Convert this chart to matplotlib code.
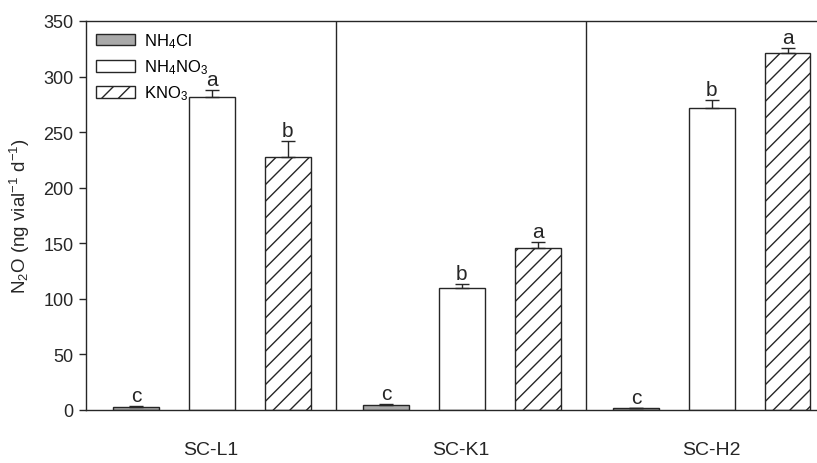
import matplotlib
matplotlib.use("Agg")
import matplotlib.pyplot as plt
import numpy as np
from matplotlib.patches import Patch

plt.rcParams['font.family'] = ['Liberation Sans', 'DejaVu Sans']
plt.rcParams['mathtext.default'] = 'regular'
plt.rcParams['hatch.linewidth'] = 1.0

sites = ["SC-L1", "SC-K1", "SC-H2"]
treatments = ["NH$_4$Cl", "NH$_4$NO$_3$", "KNO$_3$"]
nh4cl = [2.5, 4.5, 1.5]
nh4cl_err = [0.8, 0.6, 0.5]
nh4no3 = [282, 110, 272]
nh4no3_err = [6, 3.5, 7]
kno3 = [228, 146, 321]
kno3_err = [14, 5, 5]
letters = [["c", "a", "b"], ["c", "b", "a"], ["c", "b", "a"]]

ink = "#262626"
fig = plt.figure(figsize=(8.17, 4.64), dpi=100)
ax = fig.add_axes([86 / 817, 1 - 411 / 464, 750 / 817, 389 / 464])

offsets = [0.2, 0.503, 0.806]
width = 0.184
styles = [dict(facecolor="#a9a9a9", hatch=None),
          dict(facecolor="white", hatch=None),
          dict(facecolor="white", hatch="//")]
series = [(nh4cl, nh4cl_err), (nh4no3, nh4no3_err), (kno3, kno3_err)]

for j, ((vals, errs), st) in enumerate(zip(series, styles)):
    xs = np.arange(len(sites)) + offsets[j]
    ax.bar(xs, vals, width=width, facecolor=st["facecolor"], edgecolor=ink,
           linewidth=1.0, hatch=st["hatch"], zorder=2)
    ax.errorbar(xs, vals, yerr=[np.zeros(len(errs)), errs], fmt="none",
                ecolor=ink, elinewidth=1.0, capsize=5, capthick=1.0, zorder=3)
    for i, x in enumerate(xs):
        ax.text(x, vals[i] + errs[i] + 1.0, letters[i][j], ha="center",
                va="bottom", fontsize=15, color=ink)

for xv in [1, 2]:
    ax.axvline(xv, color=ink, lw=1.0, zorder=1)

ax.set_xlim(0, 3)
ax.set_ylim(0, 350)
ax.set_yticks(np.arange(0, 351, 50))
ax.set_xticks([0.5, 1.5, 2.5])
ax.set_xticklabels(sites, fontsize=14, color=ink)
ax.tick_params(axis="x", length=0, pad=22)
ax.tick_params(axis="y", direction="out", length=5, width=1, labelsize=13,
               colors=ink, pad=4)
for s in ["left", "bottom", "top"]:
    ax.spines[s].set_color(ink)
    ax.spines[s].set_linewidth(1.0)
ax.spines["right"].set_visible(False)

ax.set_ylabel("N$_2$O (ng vial$^{-1}$ d$^{-1}$)", fontsize=13.5, color=ink,
              labelpad=8)

handles = [Patch(facecolor=st["facecolor"], edgecolor=ink, hatch=st["hatch"],
                 linewidth=1.0) for st in styles]
ax.legend(handles, treatments, loc="upper left", bbox_to_anchor=(0.0, 1.0),
          frameon=False, fontsize=12, handlelength=2.3, handleheight=0.72,
          labelspacing=0.45, handletextpad=0.55, borderpad=0.5,
          borderaxespad=0.12)

fig.savefig("out.png", dpi=100)
